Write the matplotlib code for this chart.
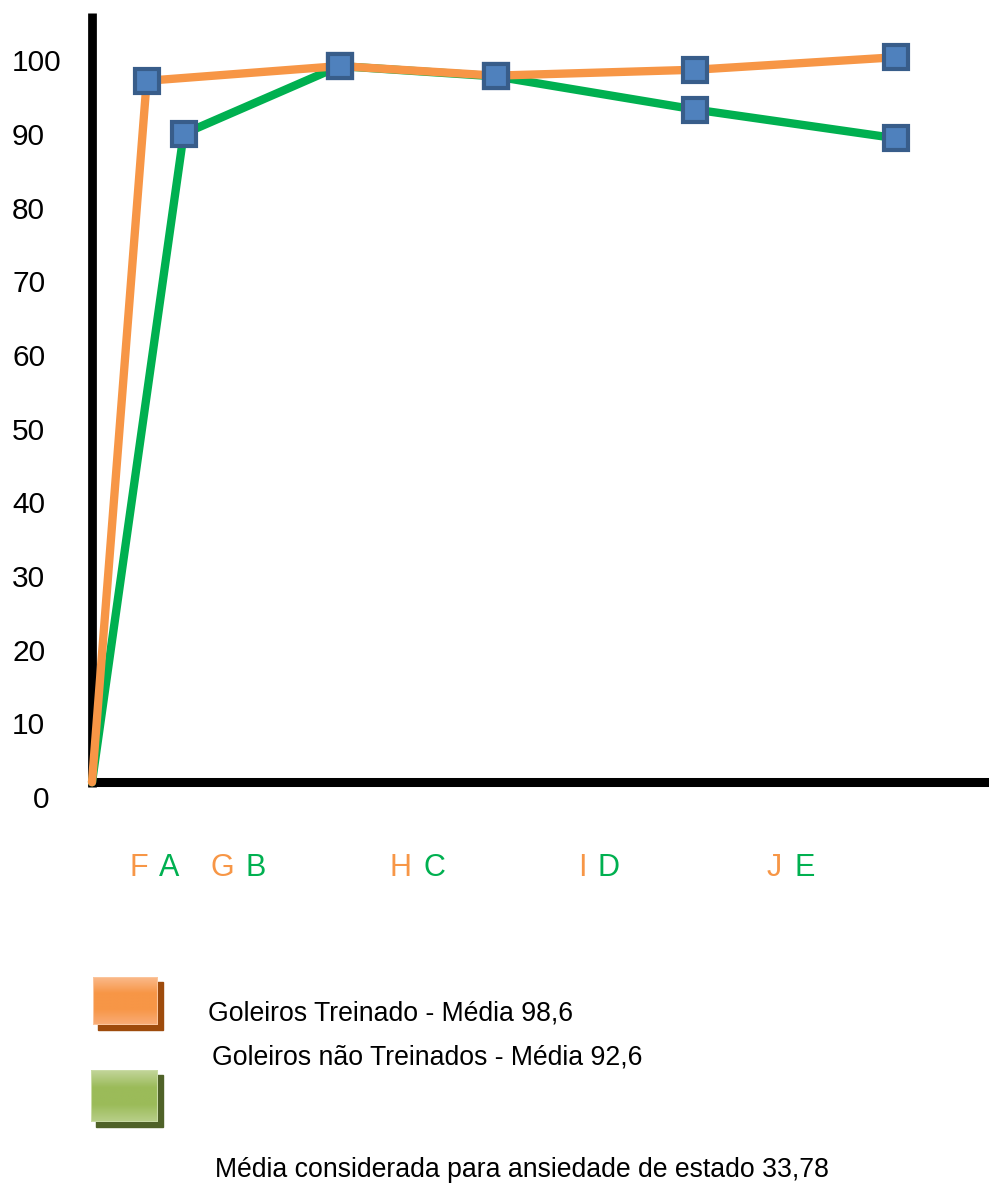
import numpy as np
import matplotlib
matplotlib.use("Agg")
import matplotlib.pyplot as plt
from matplotlib.patches import Rectangle
from matplotlib.colors import LinearSegmentedColormap

plt.rcParams['font.family'] = ['Liberation Sans', 'DejaVu Sans']

# data (x in arbitrary units along the axis, origin at 0)
x_trein = [0, 0.34, 1.54, 2.51, 3.75, 5.0]
y_trein = [2.0, 97.2, 99.2, 97.9, 98.7, 100.4]
x_nao = [0, 0.57, 1.54, 2.51, 3.75, 5.0]
y_nao = [2.0, 90.0, 99.2, 97.8, 93.3, 89.4]

yticks = [0, 10, 20, 30, 40, 50, 60, 70, 80, 90, 100]
cat_letters = ['F', 'A', 'G', 'B', 'H', 'C', 'I', 'D', 'J', 'E']
cat_x = [0.29, 0.48, 0.81, 1.02, 1.92, 2.13, 3.05, 3.21, 4.24, 4.43]

leg_labels = ['Goleiros Treinado - Média 98,6', 'Goleiros não Treinados - Média 92,6']
note = 'Média considerada para ansiedade de estado 33,78'

ORANGE = '#F79646'
GREEN = '#00B050'
W, H = 989, 1185

fig = plt.figure(figsize=(W / 100, H / 100), dpi=100)
ax = fig.add_axes([92 / W, 388 / H, 897 / W, 784 / H])
ax.set_xlim(0, 5.578)
ax.set_ylim(0, 106.4)

ax.plot(x_nao, y_nao, '-', color=GREEN, lw=6, solid_capstyle='round', zorder=3, clip_on=False)
ax.plot(x_trein, y_trein, '-', color=ORANGE, lw=6, solid_capstyle='round', zorder=4, clip_on=False)
for xs, ys in [(x_nao, y_nao), (x_trein, y_trein)]:
    ax.plot(xs[1:], ys[1:], 's', ms=17.5, mfc='#4F81BD', mec='#385D8A', mew=3,
            zorder=5, clip_on=False)

# axes look
for s in ['top', 'right']:
    ax.spines[s].set_visible(False)
ax.spines['left'].set_linewidth(6.3)
ax.spines['left'].set_bounds(1.4, 106.4)
ax.spines['left'].set_capstyle('butt')
ax.spines['bottom'].set_linewidth(6.5)
ax.spines['bottom'].set_position(('data', 2.1))
ax.spines['bottom'].set_capstyle('butt')
ax.set_xticks([])
ax.set_yticks(yticks)
ax.set_yticklabels([str(v) for v in yticks])
ax.tick_params(axis='y', length=0, pad=57.6, labelsize=21.5)
for lab in ax.get_yticklabels():
    lab.set_horizontalalignment('left')
ax.yaxis.get_major_ticks()[0].label1.set_x(21 / 897)

# two-coloured category letters under the axis
for i, (lt, xv) in enumerate(zip(cat_letters, cat_x)):
    ax.text(xv, -9.6, lt, color=ORANGE if i % 2 == 0 else GREEN, fontsize=22,
            ha='center', va='center', clip_on=False)

# legend boxes (gradient + shadow)
def legend_box(x0, y0, w, h, cols, shadow, border):
    fig.patches.append(Rectangle(((x0 + 5) / W, 1 - (y0 + h + 5) / H), w / W, h / H,
                                 transform=fig.transFigure, color=shadow, zorder=1))
    bax = fig.add_axes([x0 / W, 1 - (y0 + h) / H, w / W, h / H], zorder=2)
    cmap = LinearSegmentedColormap.from_list('g', cols)
    bax.imshow(np.linspace(0, 1, 64).reshape(-1, 1), aspect='auto', cmap=cmap,
               extent=[0, 1, 0, 1])
    bax.add_patch(Rectangle((0, 0), 1, 1, fill=False, ec=border, lw=1.5,
                            transform=bax.transAxes))
    bax.set_xlim(0, 1)
    bax.set_ylim(0, 1)
    bax.axis('off')

legend_box(93, 977, 65, 48, ['#FAB98A', ORANGE, ORANGE, '#F9AC77'], '#9E4B0C', '#FBC59C')
legend_box(91, 1070, 67, 52, ['#C2D59A', '#9BBB59', '#9BBB59', '#B8CF89'], '#4F6228', '#C9DBA5')

fig.text(208 / W, 1 - 1013 / H, leg_labels[0], fontsize=19.2, ha='left', va='center')
fig.text(212 / W, 1 - 1057 / H, leg_labels[1], fontsize=19.2, ha='left', va='center')
fig.text(522 / W, 1 - 1170 / H, note, fontsize=19.2, ha='center', va='center')

fig.savefig('out.png', dpi=100)
